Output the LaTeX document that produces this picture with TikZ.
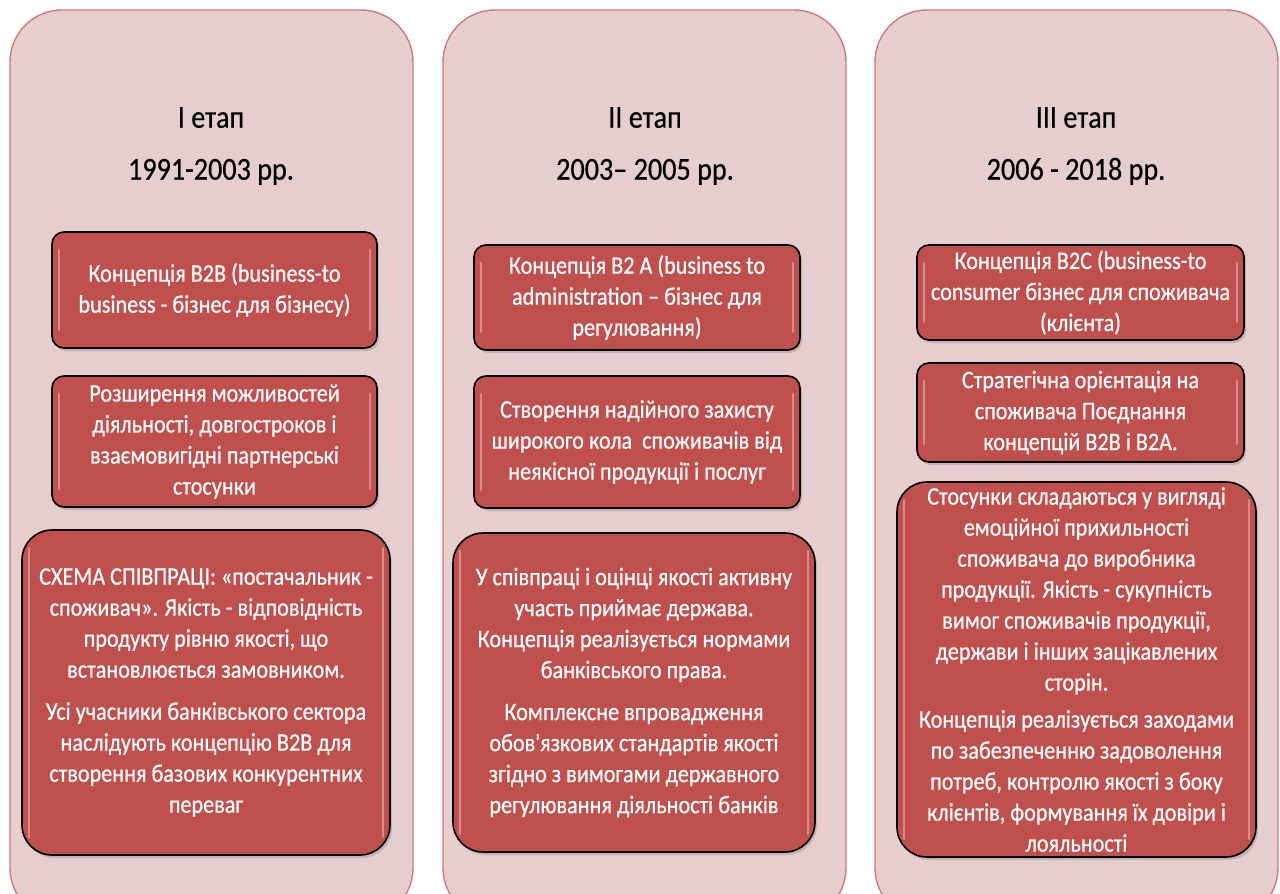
\documentclass[tikz,border=0pt]{standalone}
\usepackage{fontspec}
\setmainfont{Carlito}[Ligatures=TeXOff, FakeStretch=0.88, FakeBold=0.5]
\usetikzlibrary{shadows}
\definecolor{outerfill}{HTML}{E6CECF}
\definecolor{outerline}{HTML}{CF7A78}
\definecolor{boxred}{HTML}{C0504D}
\tikzset{
  stage/.style={draw=outerline, line width=1.4pt, fill=outerfill, rounded corners=52pt},
  title/.style={text=black, align=center, font=\fontsize{32}{52}\selectfont, inner sep=0pt},
  redbox/.style={draw=black, line width=1.6pt, fill=boxred, text=white, align=center,
    inner sep=0pt, font=\fontsize{25.2}{31}\selectfont,
    drop shadow={shadow xshift=2pt, shadow yshift=-3pt, opacity=.35},
    path picture={
      \draw[white, opacity=.35, line width=2.5pt, line cap=round]
        ([xshift=7pt,yshift=-18pt]path picture bounding box.north west) --
        ([xshift=7pt,yshift=18pt]path picture bounding box.south west);
      \draw[white, opacity=.35, line width=2.5pt, line cap=round]
        ([xshift=-7pt,yshift=-18pt]path picture bounding box.north east) --
        ([xshift=-7pt,yshift=18pt]path picture bounding box.south east);
    }},
  smallbox/.style={redbox, rounded corners=12pt},
  bigbox/.style={redbox, rounded corners=30pt}
}
\begin{document}
\begin{tikzpicture}[x=1pt,y=-1pt]
\useasboundingbox (0,0) rectangle (1280,894);
\begin{scope}
\clip (0,0) rectangle (1280,894);
\draw[stage] (10,10) rectangle (413,920);
\draw[stage] (443,10) rectangle (846,920);
\draw[stage] (875,10) rectangle (1278,920);
\end{scope}

% Column 1
\node[title] (t1) at (211,146) {І етап\\1991-2003 рр.};
\node[smallbox, minimum width=325pt, minimum height=116pt] (a1) at (214.5,290)
  {Концепція B2B (business-to\\business - бізнес для бізнесу)};
\node[smallbox, minimum width=325pt, minimum height=131pt] (b1) at (214.5,441.5)
  {Розширення можливостей\\діяльності, довгостроков і\\взаємовигідні партнерські\\стосунки};
\node[bigbox, minimum width=368pt, minimum height=325pt] (c1) at (206,692.5)
  {СХЕМА СПІВПРАЦІ: «постачальник -\\споживач». Якість - відповідність\\продукту рівню якості, що\\встановлюється замовником.\\[11pt]Усі учасники банківського сектора\\наслідують концепцію B2B для\\створення базових конкурентних\\переваг};

% Column 2
\node[title] (t2) at (645,146) {ІІ етап\\2003– 2005 рр.};
\node[smallbox, minimum width=326pt, minimum height=105pt] (a2) at (637,297.5)
  {Концепція B2 A (business to\\administration – бізнес для\\регулювання)};
\node[smallbox, minimum width=326pt, minimum height=132pt] (b2) at (637,442)
  {Створення надійного захисту\\широкого кола~ споживачів від\\неякісної продукції і послуг};
\node[bigbox, minimum width=362pt, minimum height=319pt] (c2) at (634,692.5)
  {У співпраці і оцінці якості активну\\участь приймає держава.\\Концепція реалізується нормами\\банківського права.\\[11pt]Комплексне впровадження\\обов'язкових стандартів якості\\згідно з вимогами державного\\регулювання діяльності банків};

% Column 3
\node[title] (t3) at (1076,146) {ІІІ етап\\2006 - 2018 рр.};
\node[smallbox, minimum width=327pt, minimum height=95pt] (a3) at (1080.5,292.5)
  {Концепція B2C (business-to\\consumer бізнес для споживача\\(клієнта)};
\node[smallbox, minimum width=327pt, minimum height=99pt] (b3) at (1080.5,412.5)
  {Стратегічна орієнтація на\\споживача Поєднання\\концепцій B2B і B2A.};
\node[bigbox, minimum width=359pt, minimum height=375pt] (c3) at (1076.5,669.5)
  {Стосунки складаються у вигляді\\емоційної прихильності\\споживача до виробника\\продукції. Якість - сукупність\\вимог споживачів продукції,\\держави і інших зацікавлених\\сторін.\\[6pt]Концепція реалізується заходами\\по забезпеченню задоволення\\потреб, контролю якості з боку\\клієнтів, формування їх довіри і\\лояльності};
\end{tikzpicture}
\end{document}
